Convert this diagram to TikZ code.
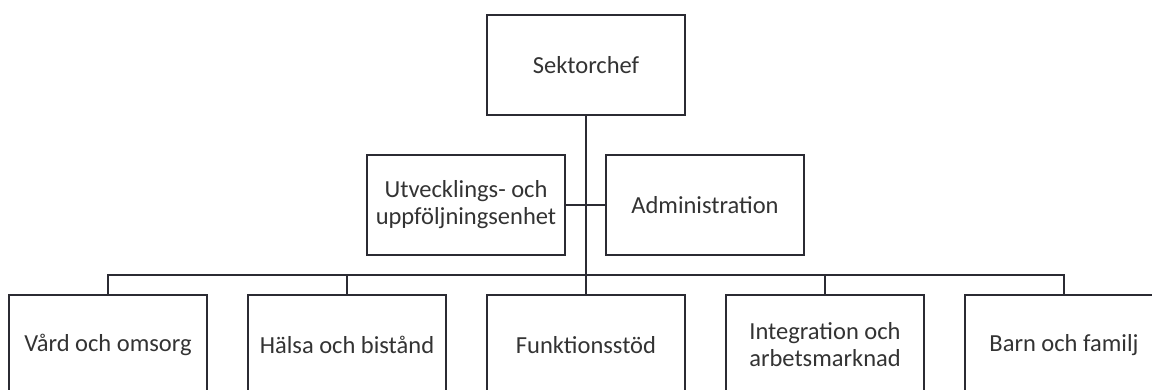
\documentclass[tikz,border=0pt]{standalone}
\usepackage{fontspec}
\setmainfont{Carlito}
\definecolor{linec}{HTML}{2B2B33}
\definecolor{textc}{HTML}{333333}
\tikzset{
  orgbox/.style={draw=linec, line width=2.8pt, minimum width=198pt, minimum height=100pt,
    inner sep=0pt, align=center, text=textc, font=\fontsize{24.5}{27}\selectfont},
  conn/.style={draw=linec, line width=2.8pt}
}
\begin{document}
\begin{tikzpicture}[x=1pt,y=-1pt]
\useasboundingbox (0,0) rectangle (1152,389);
\node[orgbox] (sek) at (586,65) {Sektorchef};
\node[orgbox] (utv) at (466,205) {Utvecklings- och\\uppföljningsenhet};
\node[orgbox] (adm) at (705,205) {Administration};
\node[orgbox] (vard) at (108,345) {Vård och omsorg};
\node[orgbox] (halsa) at (347,345) {Hälsa och bistånd};
\node[orgbox] (funk) at (586,345) {Funktionsstöd};
\node[orgbox] (integ) at (825,345) {Integration och\\arbetsmarknad};
\node[orgbox] (barn) at (1064,345) {Barn och familj};
\coordinate (bus) at (586,275);
\draw[conn] (sek.south) -- (bus);
\draw[conn] (utv.east) -- (adm.west);
\draw[conn] (vard.north) |- (bus) -| (barn.north);
\draw[conn] (halsa.north) -- (halsa.north |- bus);
\draw[conn] (funk.north) -- (bus);
\draw[conn] (integ.north) -- (integ.north |- bus);
\end{tikzpicture}
\end{document}
